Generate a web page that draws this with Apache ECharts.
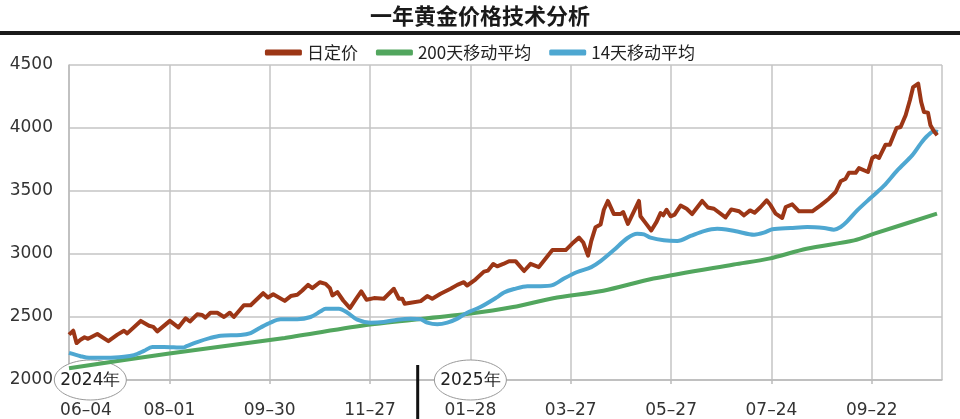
<!DOCTYPE html>
<html><head><meta charset="utf-8">
<script src="https://cdn.jsdelivr.net/npm/echarts@6/dist/echarts.min.js"></script>
<style>html,body{margin:0;padding:0;background:#fff}#c{width:960px;height:419px}</style>
</head><body><div id="c"></div>
<script>
// ---- data ----
const titleText = '一年黄金价格技术分析';
const seriesNames = ['日定价', '200天移动平均', '14天移动平均'];
// x = trading-day index since 2024-06-04
const tickDays = [0, 40, 80, 120, 160, 200, 240, 280, 320];
const tickLabels = ['06–04', '08–01', '09–30', '11–27', '01–28', '03–27', '05–27', '07–24', '09–22'];
const yMin = 2000, yMax = 4500, yStep = 500;
const dayMax = 348;

const dailyPrice = [
  [0,2360],[1.7,2391],[3,2293],[4.6,2319],[6.2,2339],[7.6,2327],[11.3,2365],[15.7,2308],[19.3,2360],[21.9,2391],
  [23.2,2370],[28.6,2469],[31.9,2430],[33.6,2422],[35.2,2386],[40.2,2469],[43.6,2417],[46.5,2490],[48.2,2464],[51.1,2521],
  [53.1,2516],[54.4,2495],[56.4,2534],[59.1,2534],[61.8,2500],[64.1,2534],[65.7,2500],[69.7,2593],[72.4,2593],[77.4,2689],
  [79.3,2655],[81.4,2681],[86,2628],[88.4,2666],[91,2676],[93,2710],[95.3,2755],[97,2729],[100,2776],[102.3,2763],
  [104,2729],[105,2671],[107,2697],[109.3,2631],[112,2571],[114.3,2639],[116.5,2703],[118.6,2637],[121.6,2650],[125.5,2645],
  [129.5,2724],[131.5,2645],[132.9,2645],[133.8,2605],[136.2,2613],[140.2,2626],[142.8,2666],[144.8,2645],[148.1,2684],[152.1,2724],
  [154.8,2755],[157.4,2776],[158.7,2750],[162,2797],[165.4,2860],[167,2868],[169.1,2921],[170.7,2902],[173.1,2921],[175.4,2943],
  [178,2943],[181.4,2865],[184,2922],[187.3,2896],[192.7,3031],[198,3031],[200.6,3083],[203.3,3130],[205,3091],[206.9,2987],
  [208.2,3104],[209.9,3213],[211.9,3234],[213.2,3351],[214.8,3421],[217.2,3317],[219.9,3317],[220.9,3333],[222.8,3239],[225.2,3338],
  [227.2,3421],[227.8,3299],[229.8,3247],[232.1,3187],[234.2,3255],[235.8,3325],[236.9,3307],[238.2,3351],[239.8,3299],[241.4,3312],
  [243.8,3385],[246.2,3359],[248.4,3317],[252.4,3421],[254.7,3369],[257.1,3359],[261.7,3290],[264,3354],[267.1,3339],[269.1,3307],
  [271.5,3346],[273.3,3328],[275.7,3373],[278.1,3426],[279.7,3386],[281.7,3320],[284.3,3286],[285.7,3373],[288.3,3394],[291,3339],
  [296.3,3339],[299.6,3386],[302.9,3439],[305.6,3492],[307.6,3577],[309.6,3598],[310.9,3645],[313.6,3645],[314.9,3682],[318.5,3651],
  [320.2,3762],[321.5,3778],[322.9,3762],[325.5,3868],[327.2,3868],[329.9,4000],[331.5,4008],[333.5,4101],[335.2,4220],[336.5,4325],
  [338.5,4352],[339.7,4206],[340.8,4127],[342.4,4122],[343.4,4021],[344.8,3974],[346.1,3942]
];
const ma200 = [
  [0,2093],[40,2210],[86,2334],[120,2440],[160,2528],[177,2579],[193,2649],[213,2709],[233,2805],
  [265,2917],[279,2963],[294,3042],[313,3108],[321,3161],[346,3320]
];
const ma14 = [
  [0,2215],[4.6,2189],[8,2176],[15.3,2176],[21.9,2184],[25.9,2197],[29.9,2231],[33.2,2262],[37.8,2262],[45.5,2257],
  [46.9,2269],[51.1,2301],[56.4,2334],[60.4,2352],[68.4,2358],[72.4,2373],[76.4,2417],[80.3,2456],[84.3,2482],[91,2482],
  [96.3,2500],[100.3,2545],[102.3,2566],[107.6,2566],[111,2534],[114.9,2479],[120.2,2455],[125.5,2461],[130.9,2479],[136.2,2487],
  [140.2,2482],[142.8,2455],[146.8,2442],[150.8,2455],[154.8,2487],[158.7,2534],[164,2579],[170.7,2658],[173.4,2695],[177.4,2722],
  [182.7,2745],[188,2745],[192.7,2753],[197.3,2805],[202.6,2857],[208.2,2896],[211.9,2943],[217.2,3031],[222.5,3125],[226.5,3161],
  [229.2,3156],[231.8,3130],[237.1,3109],[242.5,3104],[247.8,3143],[253.1,3182],[258.4,3200],[262,3195],[266.4,3178],[273.1,3153],
  [277,3169],[280.4,3196],[287.7,3206],[294.3,3214],[301,3206],[304.9,3193],[307.6,3214],[310.2,3259],[314.2,3346],[319.5,3444],
  [324.8,3540],[330.2,3664],[336.1,3783],[339.5,3876],[342.1,3936],[344.8,3974],[346.4,3968]
];
const yearMarks = [{label: '2024年', day: 8.5}, {label: '2025年', day: 160}];
const yearBoundaryDay = 139;

// ---- chart ----
const colors = ['#9c3616', '#52a65e', '#4ea7d1'];
const numFont = '"DejaVu Sans", sans-serif';
const cjkFont = '"Noto Sans CJK SC", sans-serif';
const chart = echarts.init(document.getElementById('c'), null, {renderer: 'canvas'});

chart.setOption({
  animation: false,
  backgroundColor: '#fff',
  title: {
    text: titleText, left: 'center', top: 0,
    textStyle: {fontFamily: cjkFont, fontSize: 22, fontWeight: 'bold', color: '#1a1a1a'}
  },
  legend: {
    data: seriesNames, left: 'center', top: 39,
    icon: 'roundRect', itemWidth: 37, itemHeight: 6, itemGap: 18,
    textStyle: {fontFamily: cjkFont, fontSize: 17, color: '#222'}
  },
  grid: {left: 69, right: 18, top: 65, bottom: 37, containLabel: false},
  xAxis: {
    type: 'value', min: 0, max: dayMax, interval: 40,
    axisLine: {show: true, lineStyle: {color: '#bbb', width: 1.5}},
    axisTick: {show: true, length: 4, lineStyle: {color: '#bbb', width: 1.5}},
    splitLine: {show: true, lineStyle: {color: '#c4c4c4', width: 1.5}},
    axisLabel: {
      margin: 22, fontFamily: numFont, fontSize: 17, color: '#333',
      showMaxLabel: false,
      formatter: v => {
        const i = tickDays.indexOf(v);
        if (i < 0) return '';
        return i === 0 ? '{first|' + tickLabels[i] + '}' : tickLabels[i];
      },
      rich: {first: {fontFamily: numFont, fontSize: 17, color: '#333', padding: [0, 0, 0, 34]}}
    }
  },
  yAxis: {
    type: 'value', min: yMin, max: yMax, interval: yStep,
    axisLine: {show: true, lineStyle: {color: '#bbb', width: 1.5}},
    axisTick: {show: false},
    splitLine: {show: true, lineStyle: {color: '#c4c4c4', width: 1.5}},
    axisLabel: {margin: 16, fontFamily: numFont, fontSize: 17, color: '#333', formatter: v => String(v)}
  },
  series: [
    {name: seriesNames[0], type: 'line', data: dailyPrice, showSymbol: false, symbol: 'none', z: 4,
      lineStyle: {color: colors[0], width: 4, join: 'round'}, itemStyle: {color: colors[0]}},
    {name: seriesNames[1], type: 'line', data: ma200, showSymbol: false, symbol: 'none', smooth: 0.3, z: 3,
      lineStyle: {color: colors[1], width: 4}, itemStyle: {color: colors[1]}},
    {name: seriesNames[2], type: 'line', data: ma14, showSymbol: false, symbol: 'none', smooth: 0.3, z: 3,
      lineStyle: {color: colors[2], width: 4}, itemStyle: {color: colors[2]}}
  ]
});

// annotations positioned through the axes
const g = [];
g.push({type: 'rect', shape: {x: 0, y: 31, width: 960, height: 4}, style: {fill: '#1a1a1a'}, z: 5});
yearMarks.forEach(m => {
  const p = chart.convertToPixel({gridIndex: 0}, [m.day, yMin]);
  g.push({type: 'ellipse', shape: {cx: p[0], cy: p[1], rx: 36, ry: 20},
    style: {fill: '#fff', stroke: '#999', lineWidth: 1}, z: 1});
  g.push({type: 'text', x: p[0], y: p[1] + 1,
    style: {text: m.label, align: 'center', verticalAlign: 'middle', font: '17px ' + numFont, fill: '#222'}, z: 1});
});
const b = chart.convertToPixel({gridIndex: 0}, [yearBoundaryDay, yMin]);
g.push({type: 'line', shape: {x1: b[0], y1: b[1] - 15, x2: b[0], y2: 419},
  style: {stroke: '#111', lineWidth: 3}, z: 5});
chart.setOption({graphic: g});
</script></body></html>
